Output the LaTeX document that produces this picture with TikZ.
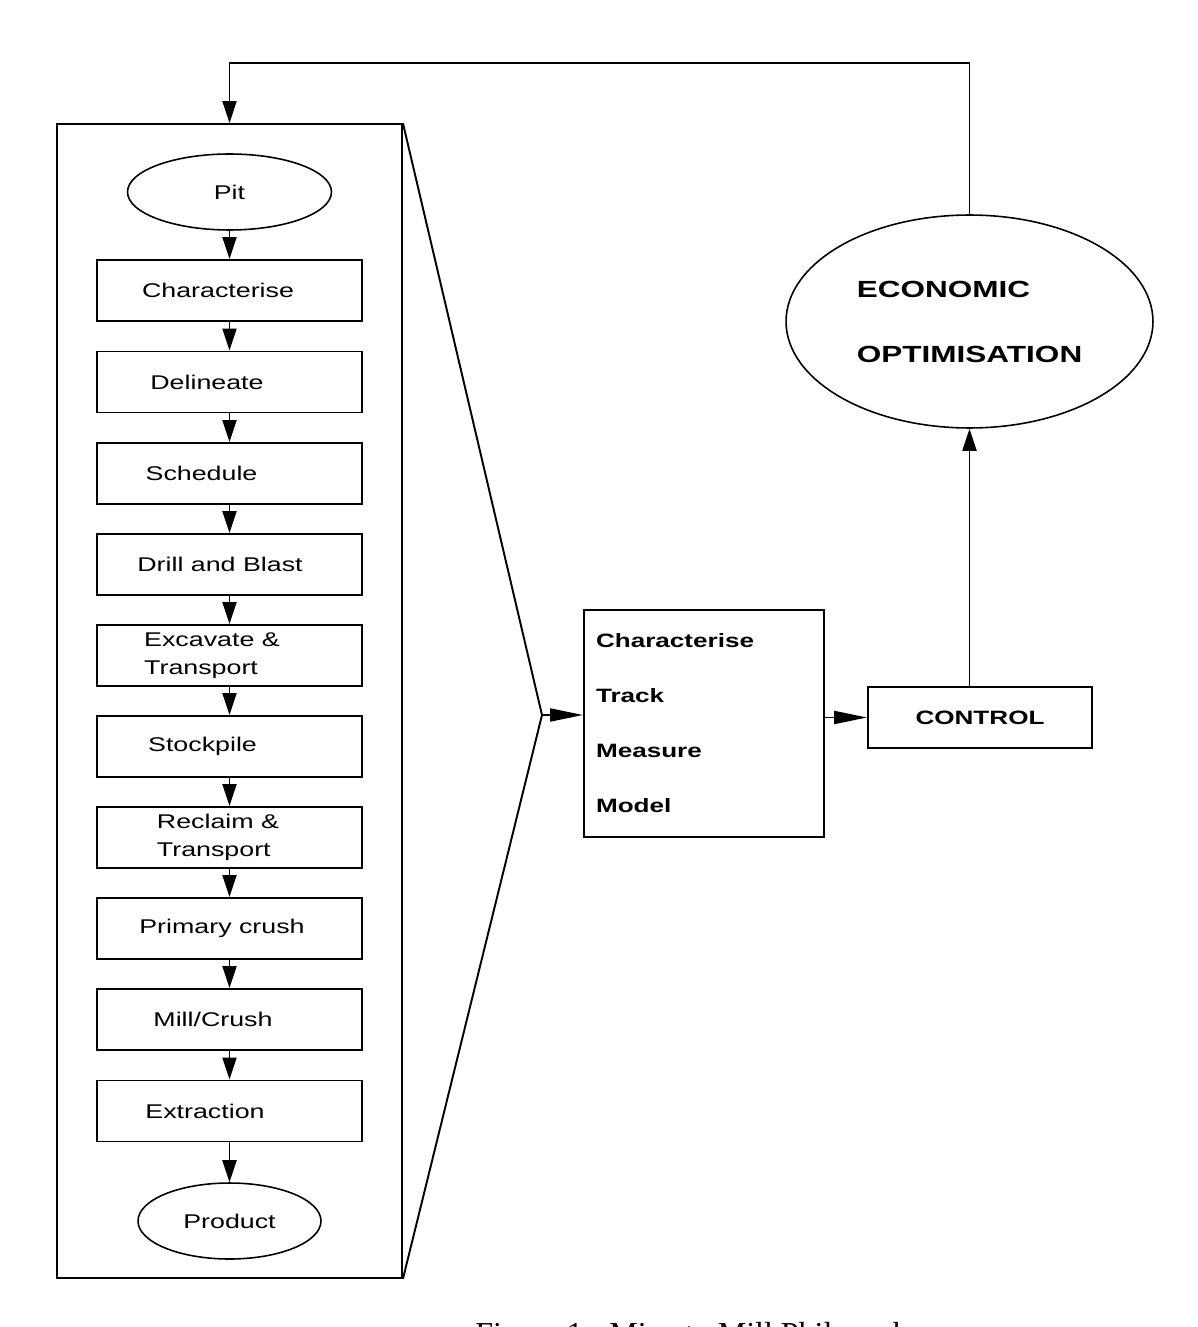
\documentclass[tikz,border=0pt]{standalone}
\usepackage{fontspec}
\usetikzlibrary{arrows.meta,shapes.geometric}
\newfontfamily\stepfont{Liberation Sans}[FakeStretch=1.35]
\newfontfamily\capfont{Liberation Serif}
\begin{document}
\begin{tikzpicture}[x=0.02cm, y=-0.02cm,
  stepbox/.style={draw, line width=1.1pt, minimum width=5.3cm, minimum height=1.22cm, inner sep=0pt},
  endpoint/.style={draw, ellipse, line width=0.9pt, inner sep=0pt, minimum height=1.52cm, font=\stepfont\fontsize{11.3}{16}\selectfont},
  lbl/.style={font=\stepfont\fontsize{11.3}{16}\selectfont, align=left},
  boldtext/.style={font=\stepfont\bfseries\fontsize{11}{31.3}\selectfont},
  varr/.style={line width=1.1pt, -{Triangle[length=0.44cm, width=0.28cm]}},
  harr/.style={line width=1.1pt, -{Triangle[length=0.66cm, width=0.26cm]}}]
\useasboundingbox (0,0) rectangle (1197,1327);
\node[draw, line width=1.1pt, minimum width=6.9cm, minimum height=23.08cm, inner sep=0pt] (frame) at (229.5,701) {};
\node[endpoint, minimum width=4.08cm] (pit) at (229.5,192) {Pit};
\node[stepbox, label={[lbl, xshift=-0.23cm]center:Characterise}] (char) at (229.5,290.5) {};
\node[stepbox, label={[lbl, xshift=-0.45cm]center:Delineate}] (delin) at (229.5,382) {};
\node[stepbox, label={[lbl, xshift=-0.56cm]center:Schedule}] (sched) at (229.5,473.5) {};
\node[stepbox, label={[lbl, xshift=-0.19cm]center:Drill and Blast}] (drill) at (229.5,564.5) {};
\node[stepbox, label={[lbl, xshift=-0.35cm]center:Excavate \&\\Transport}] (excav) at (229.5,655.5) {};
\node[stepbox, label={[lbl, xshift=-0.54cm]center:Stockpile}] (stock) at (229.5,746.5) {};
\node[stepbox, label={[lbl, xshift=-0.23cm]center:Reclaim \&\\Transport}] (recl) at (229.5,837.5) {};
\node[stepbox, label={[lbl, xshift=-0.15cm]center:Primary crush}] (prim) at (229.5,928.5) {};
\node[stepbox, label={[lbl, xshift=-0.33cm]center:Mill/Crush}] (mill) at (229.5,1019.5) {};
\node[stepbox, label={[lbl, xshift=-0.49cm]center:Extraction}] (extr) at (229.5,1111) {};
\node[endpoint, minimum width=3.66cm] (prod) at (229.5,1221) {Product};
\draw[varr] (pit.south) -- (char.north);
\draw[varr] (char.south) -- (delin.north);
\draw[varr] (delin.south) -- (sched.north);
\draw[varr] (sched.south) -- (drill.north);
\draw[varr] (drill.south) -- (excav.north);
\draw[varr] (excav.south) -- (stock.north);
\draw[varr] (stock.south) -- (recl.north);
\draw[varr] (recl.south) -- (prim.north);
\draw[varr] (prim.south) -- (mill.north);
\draw[varr] (mill.south) -- (extr.north);
\draw[varr] (extr.south) -- (prod.north);
\coordinate (apex) at (542,715);
\draw[line width=1.1pt] (frame.north east) -- (apex) -- (frame.south east);
\node[draw, line width=1.1pt, minimum width=4.8cm, minimum height=4.54cm, text width=4.32cm, inner xsep=0.24cm, align=left, boldtext] (info) at (704,723.5) {Characterise\\Track\\Measure\\Model};
\draw[harr] (apex) -- (apex -| info.west);
\node[draw, line width=1.1pt, minimum width=4.48cm, minimum height=1.22cm, inner sep=0pt, boldtext] (ctrl) at (980,717.5) {CONTROL};
\draw[harr] (ctrl.west -| info.east) -- (ctrl.west);
\node[draw, ellipse, line width=0.9pt, minimum width=7.34cm, minimum height=4.26cm, inner sep=0pt, align=left, font=\stepfont\bfseries\fontsize{13.3}{37}\selectfont] (econ) at (969.5,321.5) {ECONOMIC\\OPTIMISATION};
\draw[varr] (econ.south |- ctrl.north) -- (econ.south);
\coordinate (fb) at (969.5,63);
\draw[varr] (econ.north) -- (fb) -| (frame.north);
\begin{scope}
\clip (0,0) rectangle (1197,1327);
\node[anchor=base west, inner sep=0pt, font=\capfont\fontsize{18.2}{22}\selectfont] (cap) at (475,1344) {Figure 1 - Mine to Mill Philosophy};
\end{scope}
\end{tikzpicture}
\end{document}
